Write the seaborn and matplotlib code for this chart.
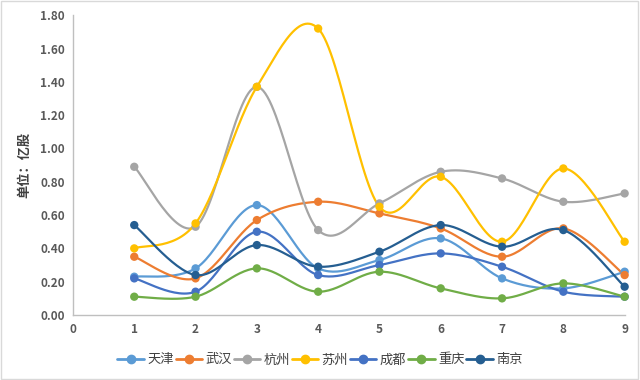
import numpy as np
import pandas as pd
import matplotlib
matplotlib.use('Agg')
import matplotlib.pyplot as plt
import seaborn as sns
from matplotlib.lines import Line2D

# data
x_vals = [1, 2, 3, 4, 5, 6, 7, 8, 9]
tianjin = [0.23, 0.28, 0.66, 0.28, 0.33, 0.46, 0.22, 0.16, 0.26]
wuhan = [0.35, 0.22, 0.57, 0.68, 0.61, 0.52, 0.35, 0.52, 0.24]
hangzhou = [0.89, 0.53, 1.37, 0.51, 0.67, 0.86, 0.82, 0.68, 0.73]
suzhou = [0.40, 0.55, 1.37, 1.72, 0.65, 0.83, 0.44, 0.88, 0.44]
chengdu = [0.22, 0.14, 0.50, 0.24, 0.30, 0.37, 0.29, 0.14, 0.11]
chongqing = [0.11, 0.11, 0.28, 0.14, 0.26, 0.16, 0.10, 0.19, 0.11]
nanjing = [0.54, 0.24, 0.42, 0.29, 0.38, 0.54, 0.41, 0.51, 0.17]

cities = ['天津', '武汉', '杭州', '苏州', '成都', '重庆', '南京']
series = [tianjin, wuhan, hangzhou, suzhou, chengdu, chongqing, nanjing]
colors = ['#5B9BD5', '#ED7D31', '#A5A5A5', '#FFC000', '#4472C4', '#70AD47', '#255E91']


def smooth(xs, ys, n=30):
    # catmull-rom style curve like excel's smoothed line
    xs = np.asarray(xs, float)
    ys = np.asarray(ys, float)
    px = np.concatenate([[xs[0]], xs, [xs[-1]]])
    py = np.concatenate([[ys[0]], ys, [ys[-1]]])
    out_x, out_y = [], []
    for i in range(1, len(px) - 2):
        p0 = np.array([px[i], py[i]])
        p3 = np.array([px[i + 1], py[i + 1]])
        c1 = p0 + (p3 - np.array([px[i - 1], py[i - 1]])) / 6
        c2 = p3 - (np.array([px[i + 2], py[i + 2]]) - p0) / 6
        t = np.linspace(0, 1, n)[:, None]
        pts = ((1 - t) ** 3) * p0 + 3 * ((1 - t) ** 2) * t * c1 + 3 * (1 - t) * t ** 2 * c2 + t ** 3 * p3
        out_x.extend(pts[:, 0])
        out_y.extend(pts[:, 1])
    return out_x, out_y


rows = []
pts = []
for city, ys in zip(cities, series):
    sx, sy = smooth(x_vals, ys)
    for a, b in zip(sx, sy):
        rows.append({'x': a, 'y': b, 'city': city})
    for a, b in zip(x_vals, ys):
        pts.append({'x': a, 'y': b, 'city': city})
curve_df = pd.DataFrame(rows)
point_df = pd.DataFrame(pts)

sns.set_style('white')
plt.rcParams['font.family'] = ['Noto Sans CJK SC', 'DejaVu Sans']

fig = plt.figure(figsize=(6.4, 3.8), dpi=100)
ax = fig.add_axes([0.114, 0.171, 0.862, 0.789])

palette = dict(zip(cities, colors))
sns.lineplot(data=curve_df, x='x', y='y', hue='city', palette=palette,
             sort=False, estimator=None, units='city', linewidth=1.6, legend=False, ax=ax)
sns.scatterplot(data=point_df, x='x', y='y', hue='city', palette=palette,
                s=36, edgecolor='none', legend=False, ax=ax, zorder=3, clip_on=False)

ax.set_xlim(0, 9)
ax.set_ylim(0, 1.8)
ax.set_xticks(range(0, 10))
ax.set_yticks(np.arange(0, 1.81, 0.2))
ax.set_yticklabels(['%.2f' % v for v in np.arange(0, 1.81, 0.2)])
ax.tick_params(axis='both', length=0, labelsize=8.5, colors='#595959', pad=6)
for lab in ax.get_xticklabels() + ax.get_yticklabels():
    lab.set_fontweight('bold')
ax.set_xlabel('')
ax.set_ylabel('单位：亿股', fontsize=9.5, fontweight='bold', color='#404040', labelpad=6)

for s in ['top', 'right']:
    ax.spines[s].set_visible(False)
for s in ['left', 'bottom']:
    ax.spines[s].set_color('#BFBFBF')
    ax.spines[s].set_linewidth(1)

handles = [Line2D([0], [0], color=c, lw=2, marker='o', markersize=6) for c in colors]
fig.legend(handles, cities, loc='center', bbox_to_anchor=(0.5, 0.053), ncol=7,
           frameon=False, fontsize=9.5, handlelength=2.0, columnspacing=0.15,
           handletextpad=0.25, labelcolor='#404040')

fig.patches.append(plt.Rectangle((0.002, 0.003), 0.995, 0.994, transform=fig.transFigure,
                                 fill=False, edgecolor='#D9D9D9', lw=1))

fig.savefig('out.png', dpi=100)
